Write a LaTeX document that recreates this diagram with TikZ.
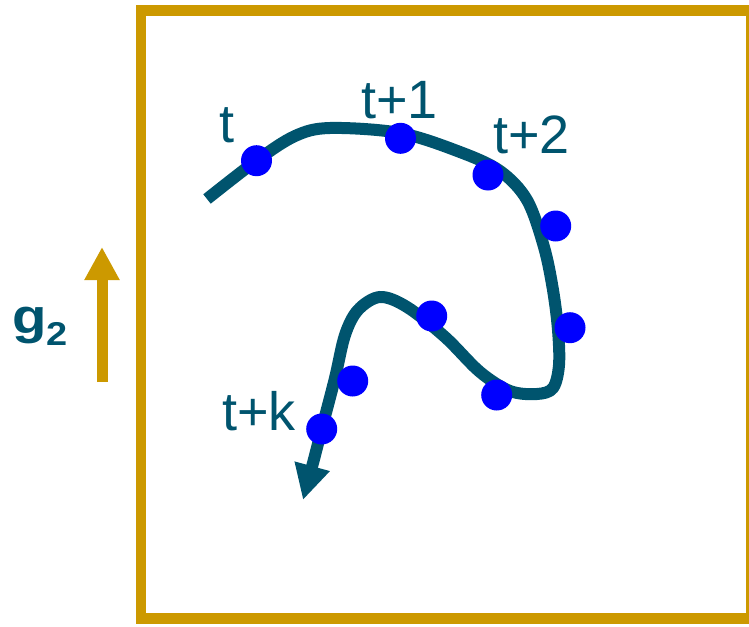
\documentclass[tikz,border=0pt]{standalone}
\usepackage{fontspec}
\setmainfont{Liberation Sans}
\usetikzlibrary{arrows.meta}
\definecolor{curvecol}{HTML}{00546E}
\definecolor{goldcol}{HTML}{CC9900}
\definecolor{dotblue}{HTML}{0000FF}
\tikzset{
  dotnode/.style={circle, fill=dotblue, draw=none, inner sep=0pt, minimum size=31pt},
  lbl/.style={text=curvecol, inner sep=0pt, anchor=base west, font=\fontsize{54}{54}\selectfont},
  glbl/.style={text=curvecol, inner sep=0pt, anchor=base west, xscale=1.15},
  pathline/.style={curvecol, line width=12pt},
}
\begin{document}
\begin{tikzpicture}[x=1pt,y=-1pt]
\useasboundingbox (0,0) rectangle (749,626);
\begin{scope}
  \clip (0,0) rectangle (749,626);
  \draw[goldcol, line width=10.5pt] (141,10.5) rectangle (751,618.5);
\end{scope}
% g2 arrow
\coordinate (gb) at (102,382);
\coordinate (gt) at (102,247);
\draw[goldcol, line width=11pt, -{Triangle[length=33pt,width=33pt]}] (gb) -- (gt);
\node[glbl, font=\fontsize{49}{49}\selectfont\bfseries] (g) at (12,333) {g};
\node[glbl, font=\fontsize{33}{33}\selectfont\bfseries] (gsub) at (46,345) {2};
% trajectory
\draw[pathline, -{Triangle[length=35pt,width=34pt]}] plot[smooth, tension=0.55] coordinates {
 (207,199) (256,161) (295,136) (330,128) (400,133) (460,152) (500,171) (527,200)
 (544,247) (553,290) (558,330) (559,365) (553,388) (537,394) (510,391) (480,372)
 (445,337) (407,307) (380,297) (358,310) (345,335) (335,378) (322,428) (313,463) (303,500)};
% dots
\node[dotnode] (d1) at (256.5,160.7) {};
\node[dotnode] (d2) at (400.5,138.3) {};
\node[dotnode] (d3) at (488,175) {};
\node[dotnode] (d4) at (555.7,226) {};
\node[dotnode] (d5) at (570,327.7) {};
\node[dotnode] (d6) at (496.7,395) {};
\node[dotnode] (d7) at (431.7,316) {};
\node[dotnode] (d8) at (352.7,381) {};
\node[dotnode] (d9) at (321.7,429) {};
% labels
\node[lbl] (l1) at (219,142) {t};
\node[lbl] (l2) at (361,118) {t+1};
\node[lbl] (l3) at (493,153) {t+2};
\node[lbl] (l4) at (222,430) {t+k};
\end{tikzpicture}
\end{document}
